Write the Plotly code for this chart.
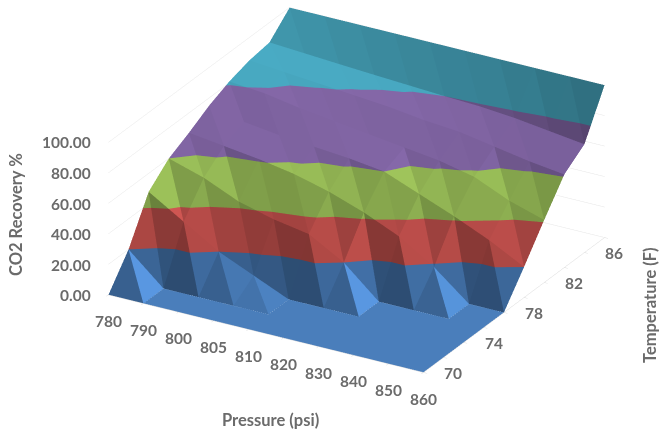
import numpy as np
import plotly.graph_objects as go

pressure = [780, 790, 800, 805, 810, 820, 830, 840, 850, 860]
temperature = [70, 72, 74, 76, 78, 80, 82, 84, 86, 88]
temperature_labels = [70, 74, 78, 82, 86]
recovery_ticks = [0, 20, 40, 60, 80, 100]

# CO2 recovery (%): one row per temperature, one column per pressure
t70 = [0, 0, 0, 0, 0, 0, 0, 0, 0, 0]
t72 = [20, 0, 0, 0, 0, 0, 0, 0, 0, 0]
t74 = [48, 34, 20, 10, 0, 0, 0, 0, 0, 0]
t76 = [60, 53, 43, 37, 33, 20, 0, 0, 0, 0]
t78 = [67, 64, 61, 57, 51, 43, 33, 18.5, 0, 0]
t80 = [75, 70, 67, 65, 63, 60, 51, 42, 32, 20]
t82 = [81, 79, 75, 72, 69, 66, 63, 58, 48, 41]
t84 = [85, 83, 81, 79, 77, 74, 72, 68, 64, 61]
t86 = [87, 85.5, 84, 82.6, 81.3, 80, 79, 77, 74, 71]
t88 = [100, 100, 100, 100, 100, 100, 100, 100, 100, 100]
recovery = np.array([t70, t72, t74, t76, t78, t80, t82, t84, t86, t88], dtype=float)

band_colors = [(74, 126, 187), (212, 88, 84), (160, 198, 92), (134, 105, 170), (74, 172, 197)]
band_edges = [0, 20, 40, 60, 80, 100]
text_color = "#6B6B6B"
grid_color = "#E6E6E6"

nx, ny = len(pressure), len(temperature)

# Height of one recovery point relative to one grid step, used for facet slopes
Z_PER_POINT = 0.0422


def facet_shade(p0, p1, p2):
    """Brightness factor of a facet: slopes towards +x catch the light, steep front faces lose it."""
    a, b, c = np.array(p0, float), np.array(p1, float), np.array(p2, float)
    a[2] *= Z_PER_POINT
    b[2] *= Z_PER_POINT
    c[2] *= Z_PER_POINT
    n = np.cross(b - a, c - a)
    n = n / np.linalg.norm(n)
    if n[2] < 0:
        n = -n
    side = 0.42 * n[0] * n[0] * n[0] / 0.41
    front = 0.25 * n[1] * abs(n[1]) / 0.64
    return 0.70 + 0.30 * n[2] + side + front


def clip_band(poly, lo, hi):
    """Clip a polygon of (x, y, z) vertices to lo <= z <= hi."""
    for level, sign in ((lo, 1), (hi, -1)):
        out = []
        for s, e in zip(poly, poly[1:] + poly[:1]):
            ds, de = sign * (s[2] - level), sign * (e[2] - level)
            if ds >= 0:
                out.append(s)
            if (ds > 0 and de < 0) or (ds < 0 and de > 0):
                f = ds / (ds - de)
                out.append(tuple(s[k] + f * (e[k] - s[k]) for k in range(3)))
        poly = out
        if not poly:
            break
    return poly


xs, ys, zs, tri_i, tri_j, tri_k, colors = [], [], [], [], [], [], []


def add_facet(p0, p1, p2):
    shade = facet_shade(p0, p1, p2)
    for band, base in enumerate(band_colors):
        part = clip_band([p0, p1, p2], band_edges[band], band_edges[band + 1])
        if len(part) < 3:
            continue
        rgb = [int(min(255, c * shade)) for c in base]
        start = len(xs)
        for vx, vy, vz in part:
            xs.append(vx)
            ys.append(vy)
            zs.append(vz)
        for n in range(1, len(part) - 1):
            tri_i.append(start)
            tri_j.append(start + n)
            tri_k.append(start + n + 1)
            colors.append(f"rgb({rgb[0]},{rgb[1]},{rgb[2]})")


# Each grid cell is split along the same diagonal into two flat facets
for r in range(ny - 1):
    for i in range(nx - 1):
        pa = (i, r, recovery[r, i])
        pb = (i + 1, r, recovery[r, i + 1])
        pc = (i, r + 1, recovery[r + 1, i])
        pd = (i + 1, r + 1, recovery[r + 1, i + 1])
        add_facet(pa, pb, pc)
        add_facet(pb, pd, pc)

surface = go.Mesh3d(
    x=xs, y=ys, z=zs, i=tri_i, j=tri_j, k=tri_k, facecolor=colors,
    flatshading=True, hoverinfo="skip",
    lighting=dict(ambient=1.0, diffuse=0.0, specular=0.0, roughness=1, fresnel=0),
)


def axis_style(**kw):
    return dict(showbackground=False, showticklabels=False, title="",
                zeroline=False, showspikes=False, **kw)


tick_font = dict(family="Lato", size=15.5, color=text_color, weight=700)
scene_labels = []
for i, p in enumerate(pressure):
    scene_labels.append(dict(x=i, y=0, z=0, text=str(p), showarrow=False, font=tick_font,
                             xshift=0, yshift=-26))
for t in temperature_labels:
    scene_labels.append(dict(x=nx - 1, y=temperature.index(t), z=0, text=str(t), showarrow=False,
                             font=tick_font, xshift=30, yshift=0))
for v in recovery_ticks:
    scene_labels.append(dict(x=0, y=0, z=v, text=f"{v:.2f}", showarrow=False, font=tick_font,
                             xanchor="right", xshift=-15, yshift=0))

title_font = dict(family="Lato", size=16.5, color=text_color, weight=700)
fig = go.Figure(surface)
fig.update_layout(
    width=670, height=440, margin=dict(l=0, r=0, t=0, b=0),
    paper_bgcolor="white", showlegend=False,
    scene=dict(
        domain=dict(x=[0.064, 1], y=[0.136, 1]),
        aspectmode="manual", aspectratio=dict(x=1.913, y=1.913, z=0.888),
        camera=dict(projection=dict(type="orthographic"),
                    eye=dict(x=0.4506 * 2, y=-0.7836 * 2, z=0.4282 * 2),
                    up=dict(x=0, y=0, z=1), center=dict(x=0, y=0, z=0)),
        xaxis=axis_style(range=[0, nx - 1], tickvals=list(range(nx)), showgrid=False,
                         ticks="outside", ticklen=4, tickcolor="#D9D9D9",
                         showline=True, linecolor="#D9D9D9"),
        yaxis=axis_style(range=[0, ny - 1], tickvals=list(range(ny)), showgrid=False,
                         ticks="outside", ticklen=4, tickcolor="#D9D9D9",
                         showline=True, linecolor="#D9D9D9"),
        zaxis=axis_style(range=[0, 100], tickvals=recovery_ticks, showgrid=True,
                         gridcolor=grid_color, gridwidth=1, ticks="", showline=False),
        annotations=scene_labels,
    ),
    annotations=[
        dict(x=270 / 670, y=1 - 420 / 440, xref="paper", yref="paper", text="Pressure (psi)",
             xanchor="center", yanchor="middle", showarrow=False, font=title_font),
        dict(x=16 / 670, y=1 - 215 / 440, xref="paper", yref="paper", text="CO2 Recovery %",
             xanchor="center", yanchor="middle", textangle=-90, showarrow=False, font=title_font),
        dict(x=650 / 670, y=1 - 305 / 440, xref="paper", yref="paper", text="Temperature (F)",
             xanchor="center", yanchor="middle", textangle=-90, showarrow=False, font=title_font),
    ],
)
fig.write_html("out.html")
